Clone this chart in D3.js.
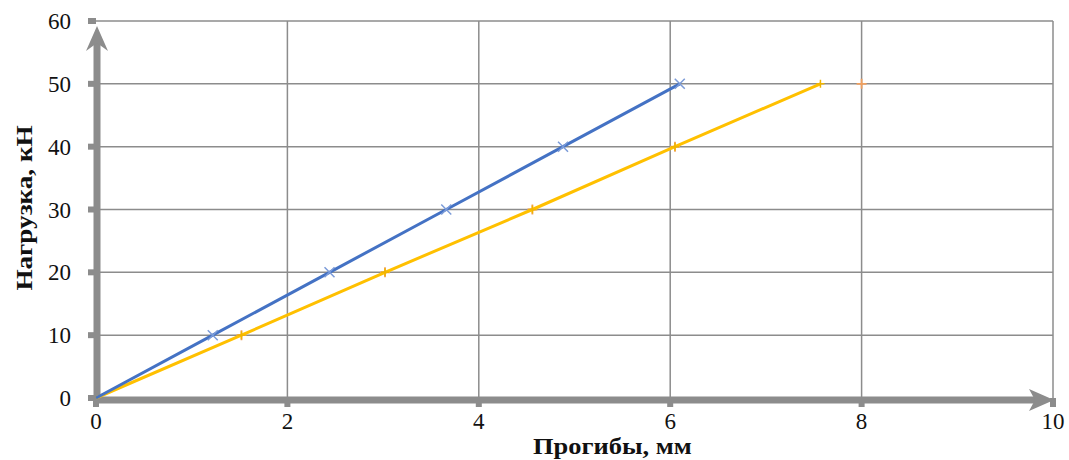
<!DOCTYPE html>
<html>
<head>
<meta charset="utf-8">
<script src="https://cdn.jsdelivr.net/npm/d3@7"></script>
<style>
  body { margin: 0; background: #fff; }
  svg { display: block; }
  text { font-family: "Liberation Serif", "Times New Roman", serif; fill: #111; }
  .tick-label { font-size: 23px; }
  .axis-title { font-size: 23px; font-weight: bold; }
</style>
</head>
<body>
<div id="chart"></div>
<script>
var load = [0, 10, 20, 30, 40, 50];
var deflBlue = [0, 1.22, 2.44, 3.66, 4.88, 6.1];
var deflYellow = [0, 1.52, 3.02, 4.56, 6.05, 7.57];
var orangePts = [[1.52, 10], [3.02, 20], [4.56, 30], [6.05, 40], [8, 50]];
var xTicks = [0, 2, 4, 6, 8, 10];
var yTicks = [0, 10, 20, 30, 40, 50, 60];

var W = 1069, H = 460;
var m = {l: 96, r: 16, t: 21, b: 62};

var svg = d3.select("#chart").append("svg")
    .attr("width", W).attr("height", H);

var x = d3.scaleLinear().domain([0, 10]).range([m.l, W - m.r]);
var y = d3.scaleLinear().domain([0, 60]).range([H - m.b, m.t]);

var grey = "#8c8c8c";

// grid
svg.append("g").selectAll("line").data(yTicks.slice(1)).enter().append("line")
    .attr("x1", x(0)).attr("x2", x(10))
    .attr("y1", function(d){ return y(d); }).attr("y2", function(d){ return y(d); })
    .attr("stroke", grey).attr("stroke-width", 1.5);
svg.append("g").selectAll("line").data(xTicks.slice(1)).enter().append("line")
    .attr("x1", function(d){ return x(d); }).attr("x2", function(d){ return x(d); })
    .attr("y1", y(0)).attr("y2", y(60))
    .attr("stroke", grey).attr("stroke-width", 1.5);

// tick bumps
svg.append("g").selectAll("rect").data(yTicks).enter().append("rect")
    .attr("x", x(0) - 8).attr("y", function(d){ return y(d) - 3; })
    .attr("width", 8).attr("height", 6).attr("fill", grey);
svg.append("g").selectAll("rect").data(xTicks).enter().append("rect")
    .attr("x", function(d){ return x(d) - 3; }).attr("y", y(0))
    .attr("width", 6).attr("height", 9).attr("fill", grey);

// thick axes with arrows
svg.append("line").attr("x1", x(0)).attr("x2", x(10) - 18)
    .attr("y1", y(0) + 2).attr("y2", y(0) + 2)
    .attr("stroke", grey).attr("stroke-width", 7);
svg.append("path")
    .attr("d", "M" + (x(10) + 1) + "," + (y(0) + 2) + " L" + (x(10) - 24) + "," + (y(0) - 9) +
      " L" + (x(10) - 18) + "," + (y(0) + 2) + " L" + (x(10) - 24) + "," + (y(0) + 13) + "Z")
    .attr("fill", grey);
svg.append("line").attr("x1", x(0) + 1).attr("x2", x(0) + 1)
    .attr("y1", y(0) + 5).attr("y2", y(60) + 22)
    .attr("stroke", grey).attr("stroke-width", 7);
svg.append("path")
    .attr("d", "M" + (x(0) + 1) + "," + (y(60) + 5) + " L" + (x(0) - 10) + "," + (y(60) + 30) +
      " L" + (x(0) + 1) + "," + (y(60) + 22) + " L" + (x(0) + 12) + "," + (y(60) + 30) + "Z")
    .attr("fill", grey);

// tick labels
svg.append("g").selectAll("text").data(yTicks).enter().append("text")
    .attr("class", "tick-label")
    .attr("x", 71).attr("y", function(d){ return y(d); })
    .attr("dy", "0.35em").attr("text-anchor", "end")
    .text(function(d){ return d; });
svg.append("g").selectAll("text").data(xTicks).enter().append("text")
    .attr("class", "tick-label")
    .attr("x", function(d){ return x(d); }).attr("y", 429)
    .attr("text-anchor", "middle")
    .text(function(d){ return d; });

// titles (slightly stretched like the source)
svg.append("text").attr("class", "axis-title")
    .attr("transform", "translate(533,454) scale(1.15,1)")
    .attr("text-anchor", "start")
    .text("Прогибы, мм");
svg.append("text").attr("class", "axis-title")
    .attr("transform", "translate(32,208) rotate(-90) scale(1.18,1)")
    .attr("text-anchor", "middle")
    .text("Нагрузка, кН");

var line = d3.line().x(function(d){ return x(d[0]); }).y(function(d){ return y(d[1]); });
var blueData = d3.zip(deflBlue, load);
var yellowData = d3.zip(deflYellow, load);

// orange plus markers (mostly hidden under yellow)
svg.append("g").selectAll("path").data(orangePts).enter().append("path")
    .attr("d", function(d){ var cx = x(d[0]), cy = y(d[1]);
      return "M" + (cx - 5) + "," + cy + "H" + (cx + 5) + "M" + cx + "," + (cy - 5) + "V" + (cy + 5); })
    .attr("stroke", "#f0a060").attr("stroke-width", 1.8).attr("fill", "none");

svg.append("path").datum(yellowData).attr("d", line)
    .attr("fill", "none").attr("stroke", "#ffc000").attr("stroke-width", 3);
svg.append("g").selectAll("path").data(yellowData.slice(1)).enter().append("path")
    .attr("d", function(d){ var cx = x(d[0]), cy = y(d[1]);
      return "M" + (cx - 4) + "," + cy + "H" + (cx + 4) + "M" + cx + "," + (cy - 4) + "V" + (cy + 4); })
    .attr("stroke", "#f0b400").attr("stroke-width", 1.5).attr("fill", "none");

svg.append("path").datum(blueData).attr("d", line)
    .attr("fill", "none").attr("stroke", "#4472c4").attr("stroke-width", 3);
svg.append("g").selectAll("path").data(blueData.slice(1)).enter().append("path")
    .attr("d", function(d){ var cx = x(d[0]), cy = y(d[1]);
      return "M" + (cx - 5) + "," + (cy - 5) + "L" + (cx + 5) + "," + (cy + 5) +
        "M" + (cx - 5) + "," + (cy + 5) + "L" + (cx + 5) + "," + (cy - 5); })
    .attr("stroke", "#7b9bd8").attr("stroke-width", 1.5).attr("fill", "none");
</script>
</body>
</html>
